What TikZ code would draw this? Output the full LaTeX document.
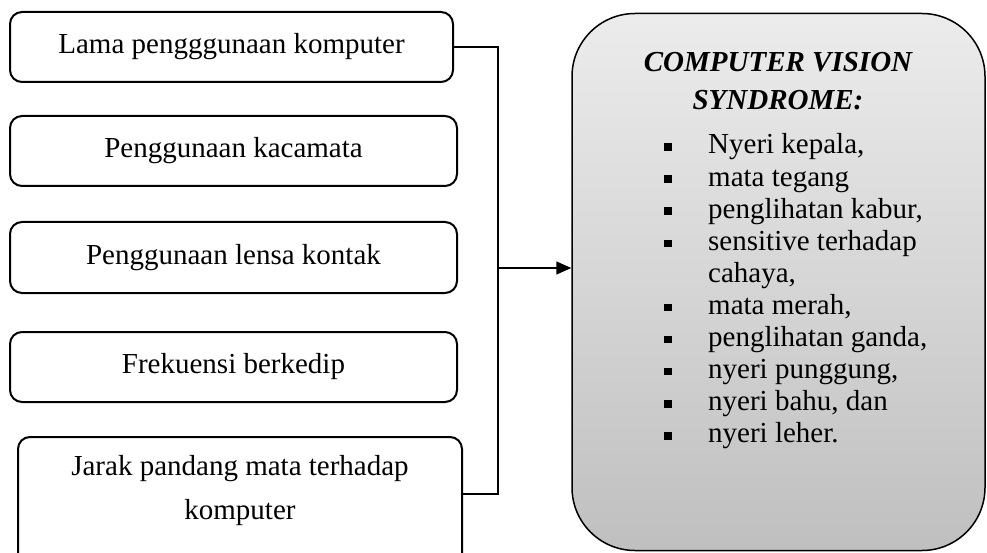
\documentclass[tikz,border=0pt]{standalone}
\usepackage{fontspec}
\setmainfont{Liberation Serif}
\usetikzlibrary{arrows.meta,calc}
\begin{document}
\begin{tikzpicture}[x=1pt,y=-1pt,
  txt/.style={font=\fontsize{29}{36}\selectfont, inner sep=0pt},
  leftbox/.style={draw=black, line width=2pt, rounded corners=12pt, inner sep=0pt},
  conn/.style={draw=black, line width=1.6pt},
  rbox/.style={draw=black, line width=1.5pt, rounded corners=63pt, top color=gray!15, bottom color=gray!50, inner sep=0pt},
  bul/.style={fill=black, minimum size=7.5pt, inner sep=0pt},
  item/.style={txt, anchor=base west}
]
\clip (0,0) rectangle (987,553);
\fill[white] (0,0) rectangle (987,553);

% left boxes
\node[leftbox, minimum width=443pt, minimum height=70pt] (b1) at (231.5,47) {};
\node[txt] (t1) at (b1) {Lama pengggunaan komputer};
\node[leftbox, minimum width=447pt, minimum height=70pt] (b2) at (233.5,151) {};
\node[txt] (t2) at (b2) {Penggunaan kacamata};
\node[leftbox, minimum width=447pt, minimum height=71pt] (b3) at (233.5,257.5) {};
\node[txt] (t3) at (b3) {Penggunaan lensa kontak};
\node[leftbox, minimum width=447pt, minimum height=70pt] (b4) at (233.5,367) {};
\node[txt] (t4) at (b4) {Frekuensi berkedip};
\node[leftbox, minimum width=444pt, minimum height=133pt] (b5) at (240,503.5) {};
\node[txt, font=\fontsize{29}{44}\selectfont, align=center] (t5) at (240,491) {Jarak pandang mata terhadap\\komputer};

% right box
\node[rbox, minimum width=413pt, minimum height=537pt] (rb) at (778.5,282) {};
\node[txt, font=\fontsize{29}{38}\selectfont\bfseries\itshape, align=center] (title) at (778,81) {COMPUTER VISION\\SYNDROME:};

% connectors
\coordinate (bt) at (498,47);
\coordinate (bb) at (498,494);
\coordinate (am) at (498,268);
\draw[conn] (b1.east) -- (bt) -- (bb) -- (b5.east |- bb);
\draw[conn, -{Triangle[length=15pt,width=13pt]}] (am) -- (rb.west |- am);

% bullet items
\foreach \i/\t/\b in {0/{Nyeri kepala,}/1, 1/{mata tegang}/1, 2/{penglihatan kabur,}/1, 3/{sensitive terhadap}/1, 4/{cahaya,}/0, 5/{mata merah,}/1, 6/{penglihatan ganda,}/1, 7/{nyeri punggung,}/1, 8/{nyeri bahu, dan}/1, 9/{nyeri leher.}/1}{
  \node[item] (it\i) at (708,{154+32.1*\i}) {\t};
  \ifnum\b=1 \node[bul] (bu\i) at (668,{147+32.1*\i}) {};\fi
}
\end{tikzpicture}
\end{document}
